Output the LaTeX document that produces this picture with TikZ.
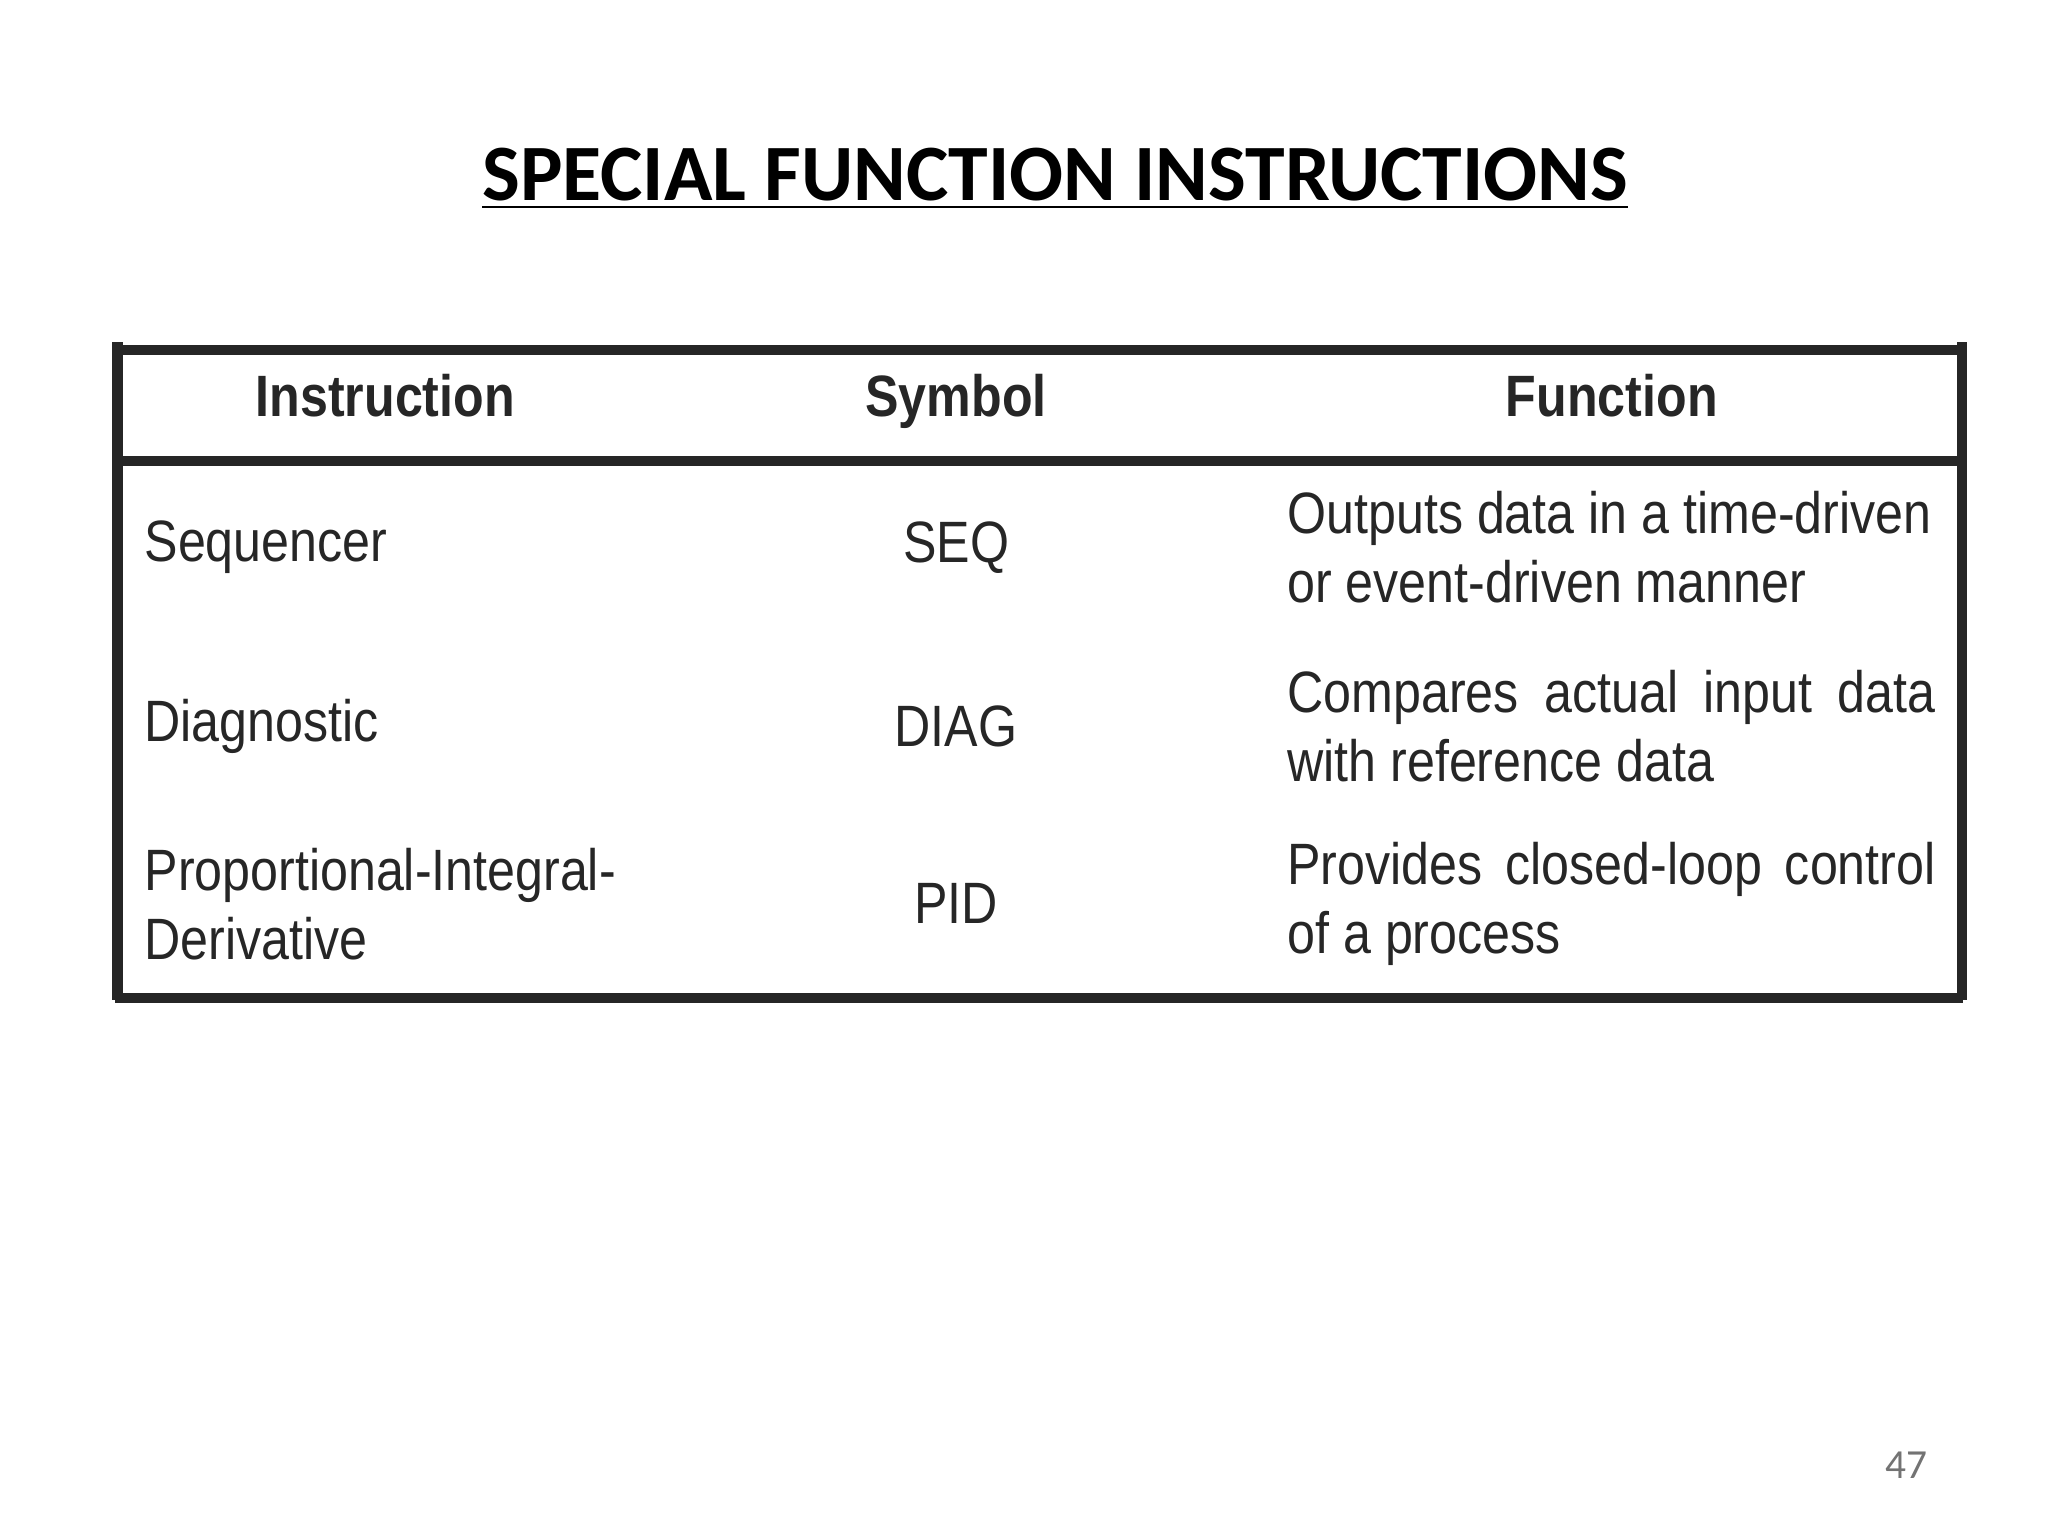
\documentclass[tikz,border=0pt]{standalone}
\usepackage{fontspec}
\setmainfont{Carlito}
\newfontfamily\tfont[FakeStretch=0.86]{Liberation Sans}
\begin{document}
\begin{tikzpicture}[x=0.01cm,y=-0.01cm,
  cell/.style={font=\tfont\fontsize{12.7}{15}\selectfont,text=black!85,inner sep=0pt},
  hdr/.style={font=\tfont\bfseries\fontsize{12.7}{15}\selectfont,text=black!85,inner sep=0pt,text height=9pt,text depth=3pt},
  rule/.style={line width=2.3pt,draw=black!85}]
\useasboundingbox (0,0) rectangle (1568,1176);
\node[font=\bfseries\fontsize{17.4}{20}\selectfont] (title) at (808,137) {\underline{SPECIAL FUNCTION INSTRUCTIONS}};
\draw[rule] (88,268) -- (1503,268);
\draw[rule] (88,353) -- (1503,353);
\draw[rule] (88,764) -- (1503,764);
\draw[rule] (90,262) -- (90,766);
\draw[rule] (1502,262) -- (1502,766);
\node[hdr] (h1) at (295,308) {Instruction};
\node[hdr] (h2) at (732,308) {Symbol};
\node[hdr] (h3) at (1234,308) {Function};
\node[cell,anchor=west] (i1) at (110,419) {Sequencer};
\node[cell,anchor=west] (i2) at (110,556) {Diagnostic};
\node[cell,anchor=west,align=left] (i3) at (110,692) {Proportional-Integral-\\Derivative};
\node[cell] (s1) at (732,419) {SEQ};
\node[cell] (s2) at (732,556) {DIAG};
\node[cell] (s3) at (732,692) {PID};
\node[cell,anchor=west,align=left] (f1) at (985,419) {Outputs data in a time-driven\\or event-driven manner};
\node[cell,anchor=west,align=left] (f2) at (985,556) {\makebox[4.96cm][s]{Compares actual input data}\\with reference data};
\node[cell,anchor=west,align=left] (f3) at (985,692) {\makebox[4.96cm][s]{Provides closed-loop control}\\of a process};
\node[text=black!55,font=\fontsize{9}{10}\selectfont] (pg) at (1460,1122) {47};
\end{tikzpicture}
\end{document}
